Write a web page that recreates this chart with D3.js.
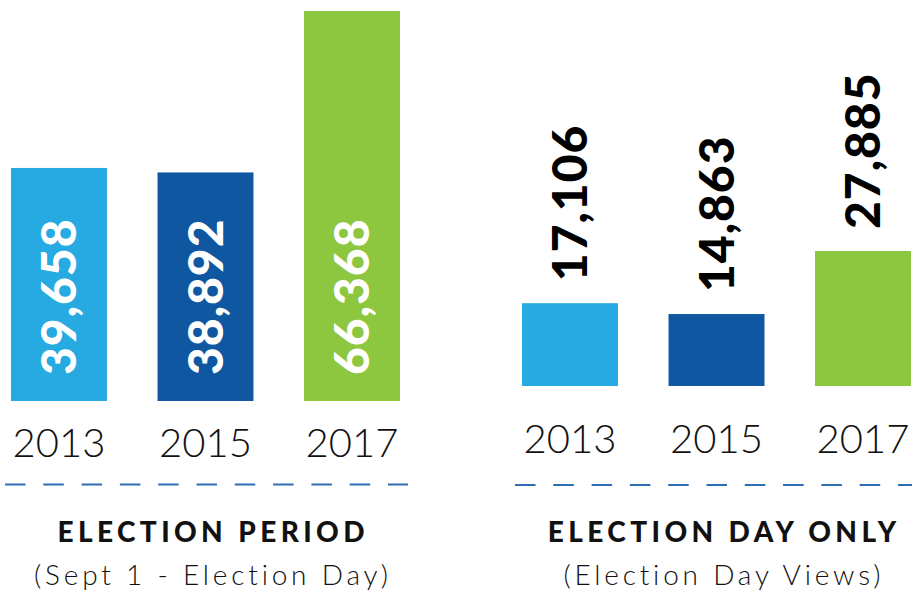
<!DOCTYPE html>
<html>
<head>
<meta charset="utf-8">
<script src="https://cdn.jsdelivr.net/npm/d3@7"></script>
<style>
  html, body { margin: 0; padding: 0; background: #fff; }
  svg { display: block; }
</style>
</head>
<body>
<svg id="chart"></svg>
<script>
// data
const years = ["2013", "2015", "2017"];
const periodViews = [39658, 38892, 66368];
const dayViews = [17106, 14863, 27885];
const barColors = ["#27a9e1", "#0f57a1", "#8dc63f"];
const panelTitles = ["ELECTION PERIOD", "ELECTION DAY ONLY"];
const panelSubtitles = ["(Sept 1 - Election Day)", "(Election Day Views)"];

const width = 912, height = 590;
const svg = d3.select("#chart").attr("width", width).attr("height", height);
const fmt = d3.format(",");
const color = d3.scaleOrdinal().domain(years).range(barColors);

// each panel has its own scale (the graphic is not on a shared axis)
const panels = [
  { values: periodViews, xr: [11, 400], yr: [401, 11], inside: true,
    yearY: 457, dashY: 484.5, dashX: [5, 408], center: 211 },
  { values: dayViews, xr: [522, 911], yr: [386, 251], inside: false,
    yearY: 453, dashY: 485, dashX: [515, 912], center: 722 }
];

panels.forEach((p, i) => {
  const data = years.map((y, j) => ({ year: y, value: p.values[j] }));

  const x = d3.scaleBand().domain(years).range(p.xr).paddingInner(0.345).paddingOuter(0);
  const y = d3.scaleLinear().domain([0, d3.max(p.values)]).range(p.yr);

  const g = svg.append("g");

  // bars
  g.selectAll("rect")
    .data(data)
    .join("rect")
    .attr("x", d => x(d.year))
    .attr("y", d => y(d.value))
    .attr("width", x.bandwidth())
    .attr("height", d => y(0) - y(d.value))
    .attr("fill", d => color(d.year));

  // value labels, rotated
  g.selectAll(".val")
    .data(data)
    .join("text")
    .attr("class", "val")
    .attr("transform", d => {
      const cx = x(d.year) + x.bandwidth() / 2;
      const sy = p.inside ? y(0) - 26 : y(d.value) - 22;
      return `translate(${cx},${sy}) rotate(-90)`;
    })
    .attr("dy", "0.36em")
    .attr("text-anchor", "start")
    .attr("font-family", "Lato, 'DejaVu Sans', sans-serif")
    .attr("font-weight", 900)
    .attr("font-size", 48)
    .attr("letter-spacing", 1)
    .attr("fill", p.inside ? "#fff" : "#000")
    .text(d => fmt(d.value));

  // year labels
  g.selectAll(".yr")
    .data(data)
    .join("text")
    .attr("class", "yr")
    .attr("x", d => x(d.year) + x.bandwidth() / 2)
    .attr("y", p.yearY)
    .attr("text-anchor", "middle")
    .attr("font-family", "Lato, sans-serif")
    .attr("font-weight", 300)
    .attr("font-size", 40)
    .attr("fill", "#111")
    .text(d => d.year);

  // dashed divider
  g.append("line")
    .attr("x1", p.dashX[0]).attr("x2", p.dashX[1])
    .attr("y1", p.dashY).attr("y2", p.dashY)
    .attr("stroke", "#2e6db4")
    .attr("stroke-width", 2.2)
    .attr("stroke-dasharray", "20.5 17.8");

  // titles (letter-spacing adds trailing space, so nudge right by half of it)
  g.append("text")
    .attr("x", p.center + 2.2).attr("y", 541.5)
    .attr("text-anchor", "middle")
    .attr("font-family", "Lato, sans-serif")
    .attr("font-weight", 900)
    .attr("font-size", 28)
    .attr("letter-spacing", 4.4)
    .attr("fill", "#111")
    .text(panelTitles[i]);

  g.append("text")
    .attr("x", p.center + 1.9).attr("y", 585)
    .attr("text-anchor", "middle")
    .attr("font-family", "Lato, sans-serif")
    .attr("font-weight", 300)
    .attr("font-size", 28)
    .attr("letter-spacing", 3.8)
    .attr("fill", "#111")
    .text(panelSubtitles[i]);
});
</script>
</body>
</html>
